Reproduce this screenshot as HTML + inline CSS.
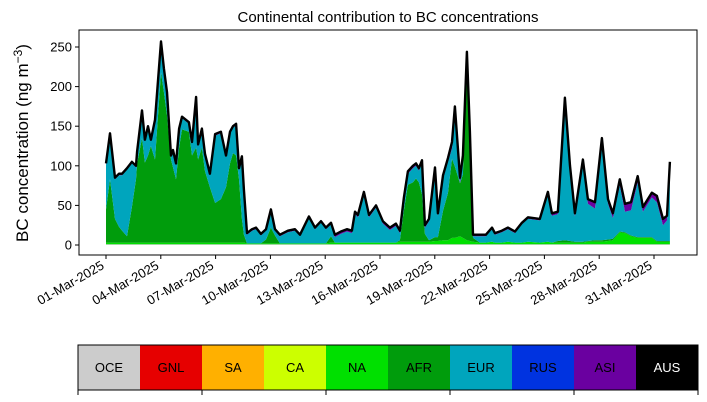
<!DOCTYPE html>
<html><head><meta charset="utf-8"><style>
body{margin:0;background:#fff;font-family:"Liberation Sans",sans-serif}
svg{display:block}
</style></head><body>
<svg id="chart" width="707" height="402" xmlns="http://www.w3.org/2000/svg">
<rect width="707" height="402" fill="#fff"/>
<text x="388" y="22" text-anchor="middle" font-size="15">Continental contribution to BC concentrations</text>
<g id="plot"></g>
<rect x="79" y="30" width="618" height="225" fill="none" stroke="#000" stroke-width="1"/>
<g id="xaxis"></g>
<g id="yaxis"></g>
<text transform="translate(28,143) rotate(-90)" text-anchor="middle" font-size="17">BC concentration (ng m<tspan dy="-6" font-size="12">−3</tspan><tspan dy="6">)</tspan></text>
<g id="cbar"></g>
</svg>
<script>
const days = [0,0.22,0.49,0.71,0.88,1.15,1.42,1.64,1.70,1.97,2.13,2.30,2.46,2.68,3.01,3.17,3.34,3.56,3.67,3.83,4.00,4.16,4.54,4.71,4.93,5.04,5.25,5.42,5.69,5.97,6.29,6.57,6.79,6.95,7.12,7.28,7.44,7.55,7.72,7.99,8.21,8.48,8.76,9.03,9.25,9.52,9.96,10.34,10.62,11.11,11.44,11.77,12.04,12.32,12.53,12.86,13.19,13.46,13.63,13.79,14.12,14.40,14.78,15.16,15.54,15.87,16.09,16.31,16.53,16.80,16.97,17.13,17.30,17.46,17.68,18.01,18.17,18.45,18.72,18.94,19.10,19.38,19.54,19.76,19.92,20.09,20.47,20.80,21.13,21.29,21.67,22.00,22.39,22.77,23.10,23.75,24.19,24.41,24.74,25.12,25.40,25.67,26.11,26.38,26.77,27.15,27.48,27.75,28.13,28.41,28.74,29.11,29.39,29.88,30.16,30.49,30.71,30.87];
const total = [103,141,85,90,90,97,105,100,118,170,133,150,133,158,257,223,193,113,120,103,147,162,155,130,187,127,147,115,90,140,143,113,143,150,153,97,112,70,15,20,22,14,20,45,20,13,18,20,13,36,22,30,22,28,13,17,20,18,42,38,67,38,50,30,22,27,18,60,93,100,103,97,107,25,33,98,40,88,110,130,175,85,113,244,143,13,13,13,22,15,18,22,17,28,35,33,67,40,42,186,100,40,108,58,54,135,58,40,83,52,54,87,48,66,62,33,37,105];
const afr = [42,80,30,20,15,8,45,80,100,132,101,110,122,105,215,190,161,105,95,80,120,143,140,110,120,105,120,90,70,50,55,70,100,113,110,80,30,10,0,0,0,0,5,20,10,0,0,0,0,0,0,0,0,8,0,0,0,0,0,0,0,0,0,0,0,0,2,40,72,75,80,75,60,10,2,5,5,37,60,100,90,67,80,236,100,5,0,0,0,0,0,0,0,0,0,0,0,0,2,3,2,1,1,1,2,2,2,2,1,1,1,1,1,1,1,1,1,1];
const na = [2,2,2,2,2,2,2,2,2,2,2,2,2,2,2,2,2,2,2,2,2,2,2,2,2,2,2,2,2,2,2,2,2,2,2,2,2,2,1,1,1,1,1,1,1,1,1,1,1,1,1,1,1,2,2,2,2,2,2,2,2,2,2,2,2,2,3,3,3,3,3,3,3,3,3,4,4,5,5,8,8,10,8,5,4,3,2,2,3,2,2,3,2,2,3,2,3,2,2,2,2,2,2,3,3,3,4,5,15,14,10,8,8,8,3,3,3,3];
const asi = [2,2,2,2,2,2,2,2,2,2,2,2,2,2,3,3,3,2,2,2,2,2,2,2,2,2,2,2,2,2,2,2,2,2,2,2,2,2,2,2,2,2,2,2,2,2,2,2,2,2,2,2,2,2,3,3,3,3,3,3,3,3,3,3,3,3,3,3,3,3,3,3,3,3,3,3,3,5,5,8,8,8,5,3,3,2,2,2,2,2,2,2,2,2,2,2,3,3,3,3,4,4,5,6,8,6,6,6,8,10,10,8,6,6,8,8,6,3];
const oce = [1,1,1,1,1,1,1,1,1,1,1,1,1,1,1,1,1,1,1,1,1,1,1,1,1,1,1,1,1,1,1,1,1,1,1,1,1,1,1,1,1,1,1,1,1,1,1,1,1,1,1,1,1,1,1,1,1,1,1,1,1,1,1,1,1,1,1,1,1,1,1,1,1,1,1,1,1,1,1,1,1,1,1,1,1,1,1,1,1,1,1,1,1,1,1,1,1,1,1,1,1,1,1,1,1,1,1,1,1,1,1,1,1,1,1,1,1,1];
const xTickDays = [0,3,6,9,12,15,18,21,24,27,30];
const xTickLabels = ["01-Mar-2025","04-Mar-2025","07-Mar-2025","10-Mar-2025","13-Mar-2025","16-Mar-2025","19-Mar-2025","22-Mar-2025","25-Mar-2025","28-Mar-2025","31-Mar-2025"];
const yTicks = [0,50,100,150,200,250];
const regions = ["OCE","GNL","SA","CA","NA","AFR","EUR","RUS","ASI","AUS"];
const regionColors = ["#cccccc","#e60000","#ffb000","#ccff00","#00e000","#009c0c","#00a5bd","#0033e0","#6a00a0","#000000"];

const NS="http://www.w3.org/2000/svg";
const xs = d => 106 + d*(654-106)/30;
const ys = v => 245 - v*(245-47)/250;
function mk(tag, attrs, parent){const e=document.createElementNS(NS,tag);for(const k in attrs)e.setAttribute(k,attrs[k]);parent.appendChild(e);return e;}

const eur = total.map((t,i)=>Math.max(0,t-oce[i]-na[i]-afr[i]-asi[i]));
const layers = [["OCE",oce,"#cccccc"],["NA",na,"#00e000"],["AFR",afr,"#009c0c"],["EUR",eur,"#00a5bd"],["ASI",asi,"#6a00a0"]];
const plot=document.getElementById('plot');
let base = days.map(()=>0);
layers.forEach(([nm,arr,col])=>{
  const top = base.map((b,i)=>b+arr[i]);
  let d = days.map((t,i)=>(i?'L':'M')+xs(t).toFixed(1)+','+ys(top[i]).toFixed(1)).join('');
  for(let i=days.length-1;i>=0;i--) d+='L'+xs(days[i]).toFixed(1)+','+ys(base[i]).toFixed(1);
  const p=mk('path',{d:d+'Z',fill:col,stroke:'none'},plot);
  
  
  base = top;
});
const line=mk('path',{d:days.map((t,i)=>(i?'L':'M')+xs(t).toFixed(1)+','+ys(total[i]).toFixed(1)).join(''),fill:'none',stroke:'#000','stroke-width':2.4,'stroke-linejoin':'round'},plot);



const xa=document.getElementById('xaxis');
xTickDays.forEach((d,i)=>{
  const x=xs(d);
  const t=mk('line',{x1:x,x2:x,y1:255,y2:259,stroke:'#000'},xa);
  
  
  const l=mk('text',{transform:`translate(${x-1},${268}) rotate(-30)`,'text-anchor':'end','font-size':13},xa);
  l.textContent=xTickLabels[i];
  
  
});
const ya=document.getElementById('yaxis');
yTicks.forEach(v=>{
  const y=ys(v);
  const t=mk('line',{x1:75,x2:79,y1:y,y2:y,stroke:'#000'},ya);
  
  
  const l=mk('text',{x:72,y:y+4.5,'text-anchor':'end','font-size':13},ya);
  l.textContent=v;
  
  
});
const cb=document.getElementById('cbar');
const w=62;
regions.forEach((r,i)=>{
  const x=78+i*w;
  const rc=mk('rect',{x:x,y:345,width:w,height:45,fill:regionColors[i]},cb);
  
  
  const tx=mk('text',{x:x+w/2,y:372,'text-anchor':'middle','font-size':13,fill:r==='AUS'?'#fff':'#000'},cb);
  tx.textContent=r;
  
  
});
const fr=mk('rect',{x:78,y:345,width:620,height:45,fill:'none',stroke:'#000'},cb);


for(let k=0;k<=5;k++){
  const x=78+k*2*w;
  const t=mk('line',{x1:x,x2:x,y1:390,y2:395,stroke:'#000'},cb);
  
  
}
</script>
</body></html>
